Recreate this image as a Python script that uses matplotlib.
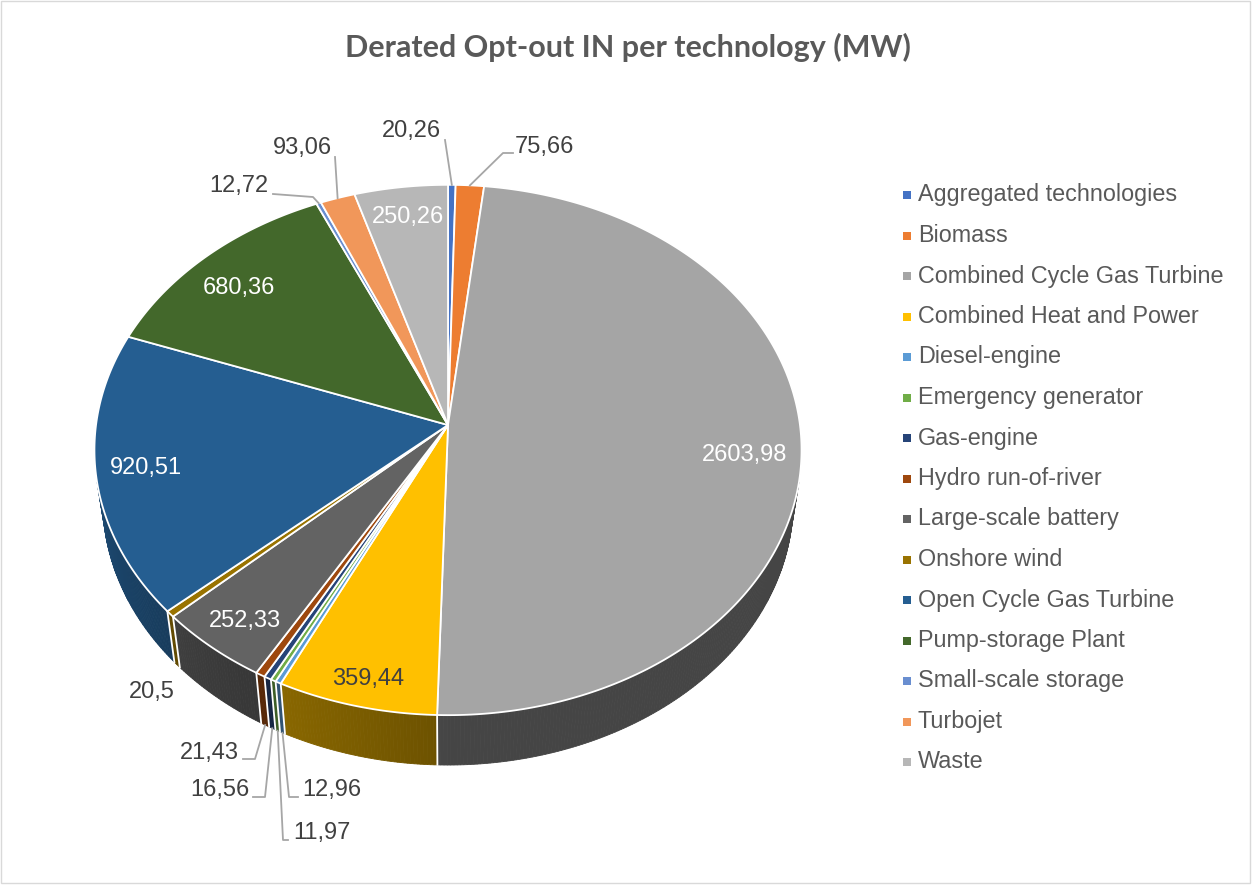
import numpy as np
import matplotlib
matplotlib.use("Agg")
import matplotlib.pyplot as plt
from matplotlib.patches import Polygon, Rectangle
from matplotlib.colors import to_rgb

# ---------------- data ----------------
categories = ["Aggregated technologies", "Biomass", "Combined Cycle Gas Turbine",
              "Combined Heat and Power", "Diesel-engine", "Emergency generator",
              "Gas-engine", "Hydro run-of-river", "Large-scale battery", "Onshore wind",
              "Open Cycle Gas Turbine", "Pump-storage Plant", "Small-scale storage",
              "Turbojet", "Waste"]
values = [20.26, 75.66, 2603.98, 359.44, 12.96, 11.97, 16.56, 21.43, 252.33, 20.5,
          920.51, 680.36, 12.72, 93.06, 250.26]
label_texts = ["20,26", "75,66", "2603,98", "359,44", "12,96", "11,97", "16,56", "21,43",
               "252,33", "20,5", "920,51", "680,36", "12,72", "93,06", "250,26"]
title = "Derated Opt-out IN per technology (MW)"

# ---------------- style ----------------
colors = ["#4472C4", "#ED7D31", "#A5A5A5", "#FFC000", "#5B9BD5", "#70AD47", "#264478",
          "#9E480E", "#636363", "#997300", "#255E91", "#43682B", "#698ED0", "#F1975A",
          "#B7B7B7"]

# 3D camera model (pixel space)
CX, CY = 448.0, 425.0
F = 2485.0
L = 7.06
EL = np.radians(48.3)
T = 0.228
ce, se = np.cos(EL), np.sin(EL)


def proj(theta_deg, r=1.0, z=0.0):
    th = np.radians(theta_deg)
    X = r * np.sin(th)
    Y = r * np.cos(th)
    depth = L + Y * ce - z * se
    x = CX + F * X / depth
    y = CY - F * (Y * se + z * ce) / depth
    return x, y


fig = plt.figure(figsize=(12.52, 8.85), dpi=100)
ax = fig.add_axes([0, 0, 1, 1])
ax.set_xlim(0, 1252)
ax.set_ylim(885, 0)
ax.axis("off")

vals = np.array(values)
total = vals.sum()
cum = np.concatenate([[0], np.cumsum(vals)])
starts = 360 * cum[:-1] / total
ends = 360 * cum[1:] / total
mids = (starts + ends) / 2

# visible wall range
ymax = -1.0 / (L * ce)
vis_lo = np.degrees(np.arccos(ymax))
vis_hi = 360 - vis_lo


def shade(theta):
    return min(0.8, 0.42 + max(0.0, theta - 180) * 0.0045)


# walls
for i in range(len(vals)):
    a = max(starts[i], vis_lo)
    b = min(ends[i], vis_hi)
    if b <= a:
        continue
    base = np.array(to_rgb(colors[i]))
    n = max(2, int((b - a) / 0.5) + 1)
    ts = np.linspace(a, b, n)
    for t1, t2 in zip(ts[:-1], ts[1:]):
        p = [proj(t1), proj(t2), proj(t2, z=-T), proj(t1, z=-T)]
        c = base * shade((t1 + t2) / 2)
        ax.add_patch(Polygon(p, closed=True, facecolor=c, edgecolor=c, lw=0.6, zorder=1))
# white separators on walls
for th in np.concatenate([starts, [360]]):
    if vis_lo < th < vis_hi:
        x1, y1 = proj(th)
        x2, y2 = proj(th, z=-T)
        ax.plot([x1, x2], [y1, y2], color="white", lw=1.3, zorder=2)

# top faces
for i in range(len(vals)):
    n = max(3, int((ends[i] - starts[i]) / 0.5) + 2)
    ts = np.linspace(starts[i], ends[i], n)
    pts = [proj(0, r=0)] + [proj(t) for t in ts]
    ax.add_patch(Polygon(pts, closed=True, facecolor=colors[i], edgecolor="white",
                         lw=1.3, joinstyle="round", zorder=3))

# ---------------- labels ----------------
LFONT = "Liberation Sans"
LSIZE = 17
inside = {2: (745, 455, "white"), 10: (146, 468, "white"), 11: (239, 288, "white"),
          14: (408, 217, "white"), 8: (245, 621, "white"), 3: (368, 679, "#404040")}
for i, (x, y, c) in inside.items():
    ax.text(x, y, label_texts[i], ha="center", va="center", fontsize=LSIZE,
            family=LFONT, color=c, zorder=6)

# outside labels: (text centre, leader points before anchor, anchor on bottom?)
outside = {
    0: ((411, 131), [(445, 140)], False),
    1: ((544, 147), [(513, 153), (503, 153)], False),
    13: ((302, 148), [(335, 157)], False),
    12: ((239, 186), [(273, 194), (313, 197)], False),
    9: ((152, 692), [], True),
    7: ((209, 753), [(243, 759), (255, 759)], True),
    6: ((220, 790), [(253, 797), (265, 797)], True),
    5: ((322, 833), [(288, 840), (283, 840)], True),
    4: ((332, 790), [(298, 797), (289, 797)], True),
}
for i, ((x, y), pts, bottom) in outside.items():
    ax.text(x, y, label_texts[i], ha="center", va="center", fontsize=LSIZE,
            family=LFONT, color="#404040", zorder=6)
    if pts:
        ax_, ay_ = proj(mids[i], z=-T if bottom else 0.0)
        xs = [p[0] for p in pts] + [ax_]
        ys = [p[1] for p in pts] + [ay_]
        ax.plot(xs, ys, color="#A6A6A6", lw=1.3, zorder=5)

# ---------------- legend ----------------
for k, name in enumerate(categories):
    yy = 195 + k * 40.5
    ax.add_patch(Rectangle((903, yy - 4), 8, 8, facecolor=colors[k], edgecolor="none", zorder=6))
    ax.text(918, yy, name, ha="left", va="center", fontsize=16.8, family=LFONT,
            color="#595959", zorder=6)

# ---------------- title ----------------
ax.text(628, 47, title, ha="center", va="center", fontsize=22, family="Lato",
        fontweight="bold", color="#595959", zorder=6)

# chart border
ax.add_patch(Rectangle((1, 1), 1249, 882, facecolor="none", edgecolor="#D9D9D9", lw=1, zorder=0))

fig.savefig("out.png", dpi=100)
